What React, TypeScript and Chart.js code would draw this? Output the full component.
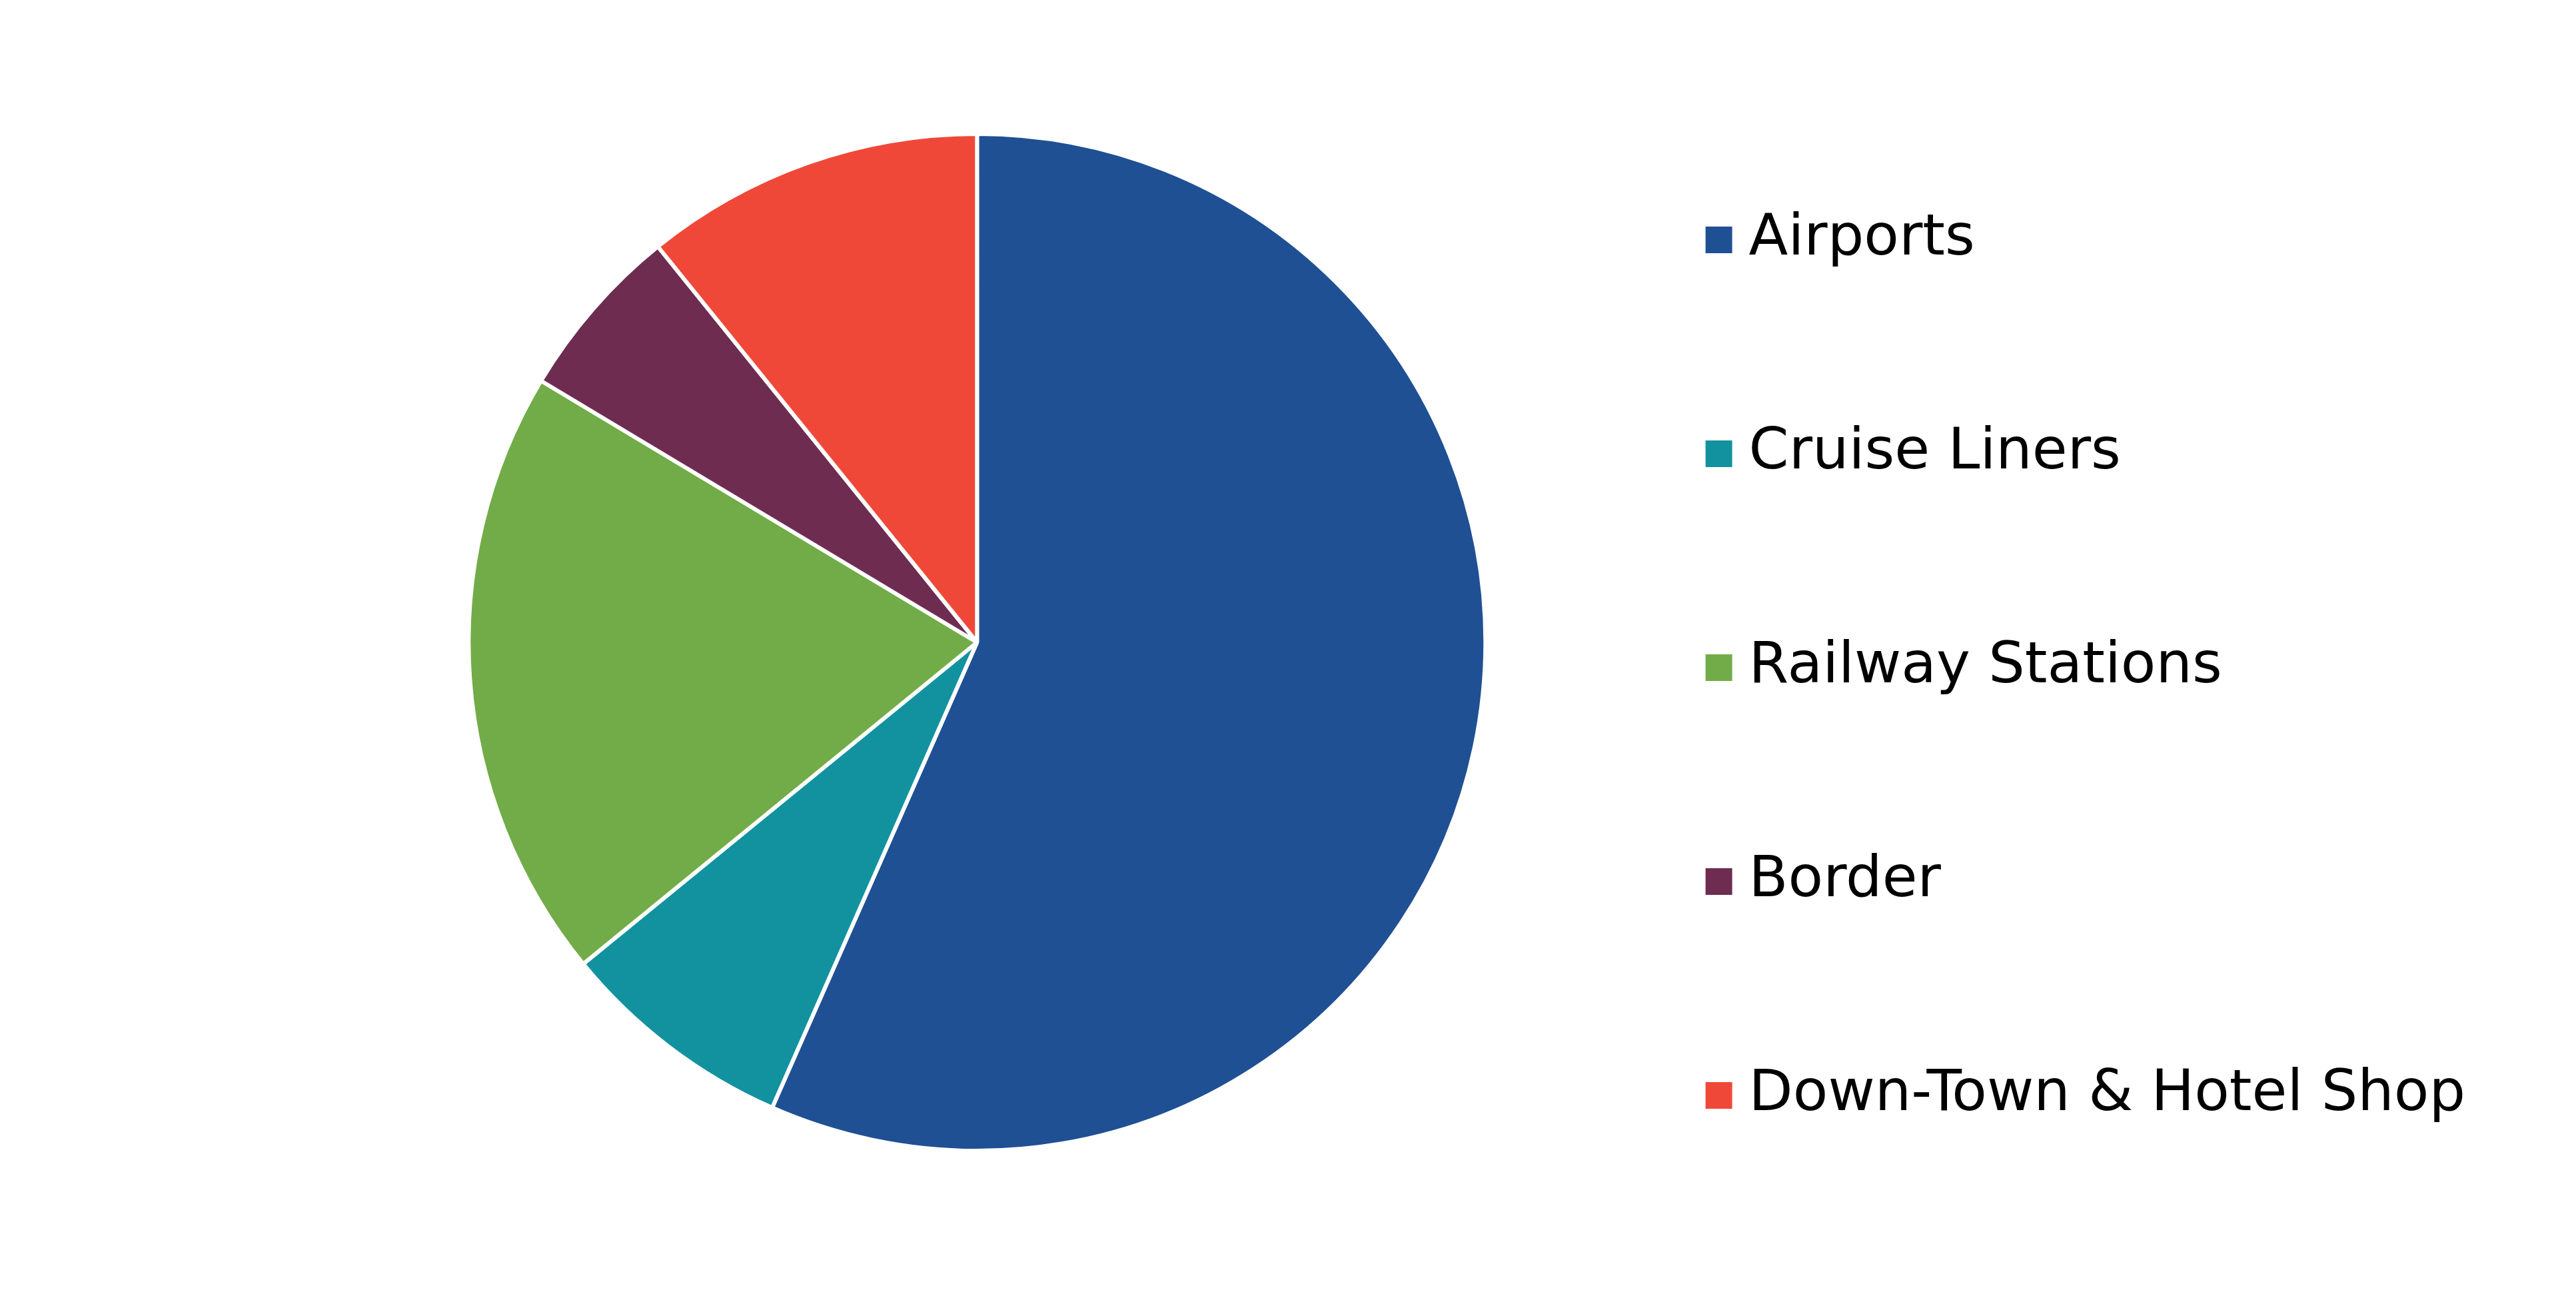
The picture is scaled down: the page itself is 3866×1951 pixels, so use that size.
import { useEffect, useRef } from 'react';
import { Chart } from 'chart.js/auto';

const categories = ['Airports', 'Cruise Liners', 'Railway Stations', 'Border', 'Down-Town & Hotel Shop'];
const shares = [56.6, 7.5, 19.5, 5.6, 10.8];
const sliceColors = ['#1F5094', '#12929F', '#72AC48', '#6E2C50', '#F04838'];

export default function App() {
  const canvasRef = useRef<HTMLCanvasElement>(null);
  const chartRef = useRef<Chart | null>(null);

  useEffect(() => {
    if (!canvasRef.current) return;
    chartRef.current?.destroy();
    chartRef.current = new Chart(canvasRef.current, {
      type: 'pie',
      data: {
        labels: categories,
        datasets: [{
          data: shares,
          backgroundColor: sliceColors,
          borderColor: '#ffffff',
          borderWidth: 6,
          hoverBorderWidth: 6,
          hoverOffset: 0,
          radius: 763,
        }],
      },
      options: {
        animation: false,
        responsive: true,
        maintainAspectRatio: false,
        devicePixelRatio: 1,
        events: [],
        layout: { padding: { left: 590, right: 156, top: 0, bottom: 23 } },
        plugins: {
          tooltip: { enabled: false },
          legend: {
            position: 'right',
            align: 'center',
            // empty title only pushes the legend column a little below the pie centre
            title: { display: true, text: ' ', padding: 0, font: { size: 10, lineHeight: 7.6 } },
            labels: {
              boxWidth: 4,
              boxHeight: 4,
              padding: 235,
              color: '#000000',
              font: { family: 'DejaVu Sans', size: 86 },
              // thick stroke round a tiny box gives the 40px square with a narrow gap to the text
              generateLabels: (chart) => {
                const items = Chart.overrides.doughnut.plugins.legend.labels.generateLabels(chart);
                return items.map((it) => ({ ...it, strokeStyle: it.fillStyle, lineWidth: 36, lineJoin: 'miter' }));
              },
            },
          },
        },
      },
    });
    return () => chartRef.current?.destroy();
  }, []);

  return (
    <div style={{ position: 'fixed', left: 0, top: 0, width: 3866, height: 1951, background: '#fff' }}>
      <canvas ref={canvasRef} />
    </div>
  );
}
